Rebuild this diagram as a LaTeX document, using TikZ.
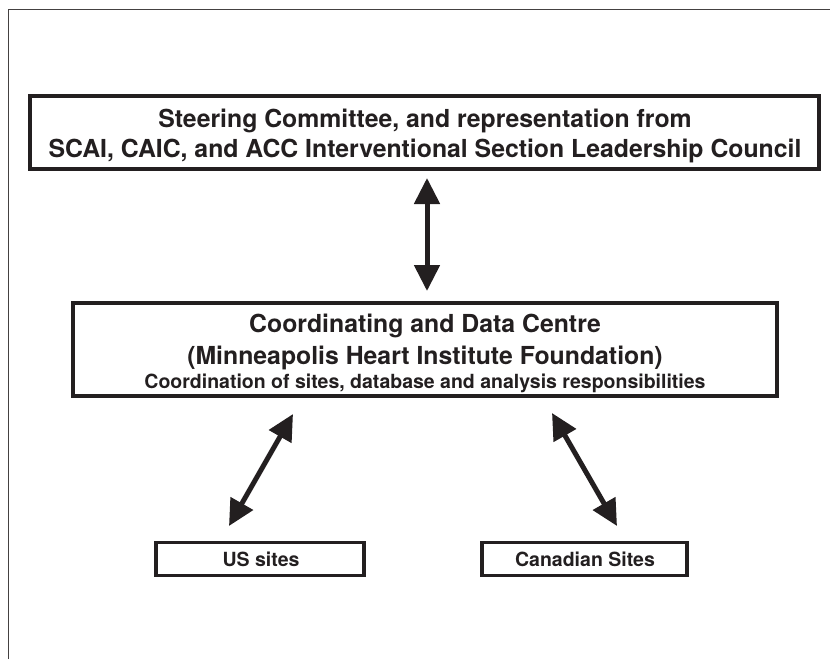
\documentclass[tikz,border=0pt]{standalone}
\usepackage{fontspec}
\setmainfont{TeX Gyre Heros}
\usetikzlibrary{arrows.meta}
\definecolor{ink}{HTML}{231F20}
\tikzset{
  box/.style={draw=ink, line width=3.8pt, fill=white, inner sep=0pt},
  bigtxt/.style={anchor=base, inner sep=0pt, text=ink, font=\fontsize{24.8}{29}\selectfont\bfseries},
  smalltxt/.style={anchor=base, inner sep=0pt, text=ink, font=\fontsize{19.5}{23}\selectfont\bfseries},
  dbl/.style={draw=ink, line width=5pt, {Triangle[length=26pt,width=25pt]}-{Triangle[length=26pt,width=25pt]}, ink},
  frame/.style={draw=ink!85, line width=1.3pt}
}
\begin{document}
\begin{tikzpicture}[x=1pt,y=-1pt]
\useasboundingbox (0,0) rectangle (830,659);
\draw[frame] (8.5,659) -- (8.5,9.5) -- (830,9.5);
% boxes
\node[box, minimum width=789pt, minimum height=73pt] (steer) at (424.5,132.5) {};
\node[box, minimum width=704pt, minimum height=93pt] (cdc) at (425,349.5) {};
\node[box, minimum width=208pt, minimum height=33pt] (us) at (260,559) {};
\node[box, minimum width=205pt, minimum height=33pt] (ca) at (584.5,559) {};
% texts
\node[bigtxt] (s1) at (425,127) {Steering Committee, and representation from};
\node[bigtxt] (s2) at (425,157) {SCAI, CAIC, and ACC Interventional Section Leadership Council};
\node[bigtxt] (c1) at (425,332) {Coordinating and Data Centre};
\node[bigtxt] (c2) at (425,364.5) {(Minneapolis Heart Institute Foundation)};
\node[smalltxt] (c3) at (425,388.5) {Coordination of sites, database and analysis responsibilities};
\node[smalltxt] (ust) at (261,566) {US sites};
\node[smalltxt] (cat) at (585,566) {Canadian Sites};
% connectors
\coordinate (vA) at (427,178);
\coordinate (vB) at (427,291);
\coordinate (usA) at (293,414);
\coordinate (usB) at (229,526);
\coordinate (caA) at (552,413);
\coordinate (caB) at (617,526);
\draw[dbl] (vA) -- (vB);
\draw[dbl] (usA) -- (usB);
\draw[dbl] (caA) -- (caB);
\end{tikzpicture}
\end{document}
